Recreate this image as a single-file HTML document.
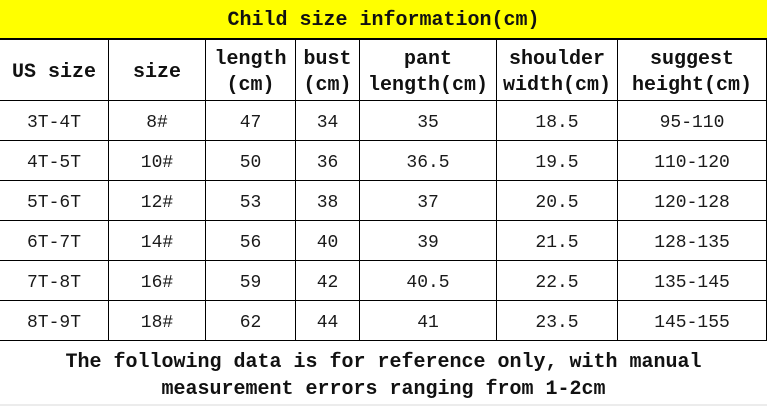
<!DOCTYPE html>
<html>
<head>
<meta charset="utf-8">
<style>
  html, body { margin:0; padding:0; }
  body { width:767px; height:406px; position:relative; overflow:hidden; background:#fff;
         font-family:"Liberation Mono", "Noto Sans CJK SC", monospace; color:#111; }
  .abs { position:absolute; }
  .title { left:0; top:0; width:767px; height:38px; background:#ffff00; }
  .title span { position:absolute; left:0; width:767px; top:8px; text-align:center;
                font-size:20px; font-weight:bold; line-height:26px; color:#111; }
  .h { position:absolute; background:#000; height:1px; }
  .v { position:absolute; background:#000; width:1px; }
  .cell { position:absolute; display:flex; align-items:center; justify-content:center; text-align:center; }
  .hd { font-size:20px; font-weight:bold; line-height:26px; }
  .dt { font-size:18px; line-height:20px; color:#1a1a1a; }
  .foot { position:absolute; left:0; width:767px; text-align:center; font-size:20px; font-weight:bold; line-height:27px; color:#111; }
  .strip { position:absolute; left:0; top:404px; width:767px; height:2px; background:#ececec; }
</style>
</head>
<body>
  <div class="abs title"><span>Child size information(cm)</span></div>

  <!-- horizontal lines -->
  <div class="h" style="left:0;top:38px;width:767px;height:2px;"></div>
  <div class="h" style="left:0;top:100px;width:767px;"></div>
  <div class="h" style="left:0;top:140px;width:767px;"></div>
  <div class="h" style="left:0;top:180px;width:767px;"></div>
  <div class="h" style="left:0;top:220px;width:767px;"></div>
  <div class="h" style="left:0;top:260px;width:767px;"></div>
  <div class="h" style="left:0;top:300px;width:767px;"></div>
  <div class="h" style="left:0;top:340px;width:767px;"></div>

  <!-- vertical lines -->
  <div class="v" style="left:108px;top:39px;height:302px;"></div>
  <div class="v" style="left:205px;top:39px;height:302px;"></div>
  <div class="v" style="left:295px;top:39px;height:302px;"></div>
  <div class="v" style="left:359px;top:39px;height:302px;"></div>
  <div class="v" style="left:496px;top:39px;height:302px;"></div>
  <div class="v" style="left:617px;top:39px;height:302px;"></div>
  <div class="v" style="left:766px;top:39px;height:302px;"></div>

  <!-- header row -->
  <div class="cell hd" style="left:0;top:43px;width:108px;height:60px;">US size</div>
  <div class="cell hd" style="left:109px;top:43px;width:96px;height:60px;">size</div>
  <div class="cell hd" style="left:206px;top:46px;width:89px;height:54px;">length<br>(cm)</div>
  <div class="cell hd" style="left:296px;top:46px;width:63px;height:54px;">bust<br>(cm)</div>
  <div class="cell hd" style="left:360px;top:46px;width:136px;height:54px;">pant<br>length(cm)</div>
  <div class="cell hd" style="left:497px;top:46px;width:120px;height:54px;">shoulder<br>width(cm)</div>
  <div class="cell hd" style="left:618px;top:46px;width:148px;height:54px;">suggest<br>height(cm)</div>

  <!-- row 1 -->
  <div class="cell dt" style="left:0;top:103px;width:108px;height:40px;">3T-4T</div>
  <div class="cell dt" style="left:109px;top:103px;width:96px;height:40px;">8#</div>
  <div class="cell dt" style="left:206px;top:103px;width:89px;height:40px;">47</div>
  <div class="cell dt" style="left:296px;top:103px;width:63px;height:40px;">34</div>
  <div class="cell dt" style="left:360px;top:103px;width:136px;height:40px;">35</div>
  <div class="cell dt" style="left:497px;top:103px;width:120px;height:40px;">18.5</div>
  <div class="cell dt" style="left:618px;top:103px;width:148px;height:40px;">95-110</div>

  <!-- row 2 -->
  <div class="cell dt" style="left:0;top:143px;width:108px;height:40px;">4T-5T</div>
  <div class="cell dt" style="left:109px;top:143px;width:96px;height:40px;">10#</div>
  <div class="cell dt" style="left:206px;top:143px;width:89px;height:40px;">50</div>
  <div class="cell dt" style="left:296px;top:143px;width:63px;height:40px;">36</div>
  <div class="cell dt" style="left:360px;top:143px;width:136px;height:40px;">36.5</div>
  <div class="cell dt" style="left:497px;top:143px;width:120px;height:40px;">19.5</div>
  <div class="cell dt" style="left:618px;top:143px;width:148px;height:40px;">110-120</div>

  <!-- row 3 -->
  <div class="cell dt" style="left:0;top:183px;width:108px;height:40px;">5T-6T</div>
  <div class="cell dt" style="left:109px;top:183px;width:96px;height:40px;">12#</div>
  <div class="cell dt" style="left:206px;top:183px;width:89px;height:40px;">53</div>
  <div class="cell dt" style="left:296px;top:183px;width:63px;height:40px;">38</div>
  <div class="cell dt" style="left:360px;top:183px;width:136px;height:40px;">37</div>
  <div class="cell dt" style="left:497px;top:183px;width:120px;height:40px;">20.5</div>
  <div class="cell dt" style="left:618px;top:183px;width:148px;height:40px;">120-128</div>

  <!-- row 4 -->
  <div class="cell dt" style="left:0;top:223px;width:108px;height:40px;">6T-7T</div>
  <div class="cell dt" style="left:109px;top:223px;width:96px;height:40px;">14#</div>
  <div class="cell dt" style="left:206px;top:223px;width:89px;height:40px;">56</div>
  <div class="cell dt" style="left:296px;top:223px;width:63px;height:40px;">40</div>
  <div class="cell dt" style="left:360px;top:223px;width:136px;height:40px;">39</div>
  <div class="cell dt" style="left:497px;top:223px;width:120px;height:40px;">21.5</div>
  <div class="cell dt" style="left:618px;top:223px;width:148px;height:40px;">128-135</div>

  <!-- row 5 -->
  <div class="cell dt" style="left:0;top:263px;width:108px;height:40px;">7T-8T</div>
  <div class="cell dt" style="left:109px;top:263px;width:96px;height:40px;">16#</div>
  <div class="cell dt" style="left:206px;top:263px;width:89px;height:40px;">59</div>
  <div class="cell dt" style="left:296px;top:263px;width:63px;height:40px;">42</div>
  <div class="cell dt" style="left:360px;top:263px;width:136px;height:40px;">40.5</div>
  <div class="cell dt" style="left:497px;top:263px;width:120px;height:40px;">22.5</div>
  <div class="cell dt" style="left:618px;top:263px;width:148px;height:40px;">135-145</div>

  <!-- row 6 -->
  <div class="cell dt" style="left:0;top:303px;width:108px;height:40px;">8T-9T</div>
  <div class="cell dt" style="left:109px;top:303px;width:96px;height:40px;">18#</div>
  <div class="cell dt" style="left:206px;top:303px;width:89px;height:40px;">62</div>
  <div class="cell dt" style="left:296px;top:303px;width:63px;height:40px;">44</div>
  <div class="cell dt" style="left:360px;top:303px;width:136px;height:40px;">41</div>
  <div class="cell dt" style="left:497px;top:303px;width:120px;height:40px;">23.5</div>
  <div class="cell dt" style="left:618px;top:303px;width:148px;height:40px;">145-155</div>

  <!-- footer -->
  <div class="foot" style="top:349px;">The following data is for reference only, with manual</div>
  <div class="foot" style="top:376px;">measurement errors ranging from 1-2cm</div>
  <div class="strip"></div>
</body>
</html>
